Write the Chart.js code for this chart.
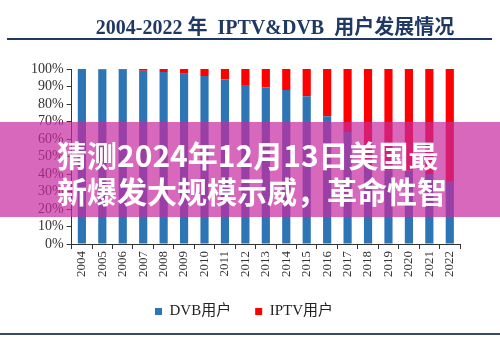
<!DOCTYPE html>
<html lang="zh">
<head>
<meta charset="UTF-8">
<title>2004-2022年 IPTV&DVB 用户发展情况</title>
<script src="https://cdn.jsdelivr.net/npm/chart.js"></script>
<style>
  html, body { margin: 0; padding: 0; background: #fff; }
  #wrap { position: relative; width: 500px; height: 341px; overflow: hidden; }
  #title {
    position: absolute; left: 0; top: 11px; width: 500px; padding-left: 50px; box-sizing: border-box;
    text-align: center; font-family: "Liberation Serif", "Noto Sans CJK SC", serif;
    font-weight: bold; font-size: 20px; color: #1f3864; white-space: pre;
  }
  #rule1 { position: absolute; left: 7px; width: 485px; top: 38px; height: 2px; background: #1f3864; }
  #rule2 { position: absolute; left: 0; width: 500px; top: 333px; height: 2px; background: #3b4a63; }
  #chartBox { position: absolute; left: 0; top: 0; width: 500px; height: 341px; }
  #banner {
    position: absolute; left: 0; top: 122px; width: 500px; height: 95px;
    background: rgba(200, 40, 160, 0.7);
  }
  #banner div {
    position: absolute; left: 57px; color: #fff; font-family: "Noto Sans CJK SC", sans-serif;
    font-weight: bold; font-size: 30px; line-height: 34px; white-space: nowrap;
  }
</style>
</head>
<body>
<div id="wrap">
  <div id="chartBox"><canvas id="chart" width="500" height="341"></canvas></div>
  <div id="title">2004-2022 年  IPTV&amp;DVB  用户发展情况</div>
  <div id="rule1"></div>
  <div id="banner">
    <div style="top:15px">猜测2024年12月13日美国最</div>
    <div style="top:51px">新爆发大规模示威，革命性智</div>
  </div>
  <div id="rule2"></div>
</div>
<script>
// 年份
var years = ["2004", "2005", "2006", "2007", "2008", "2009", "2010", "2011", "2012", "2013",
             "2014", "2015", "2016", "2017", "2018", "2019", "2020", "2021", "2022"];
// DVB用户占比 (%)
var dvb = [100, 99.8, 99.6, 99, 98.3, 97.3, 96, 94, 90.8, 89.5,
           88, 84.5, 73, 64, 45, 42, 42, 40, 36];
// IPTV用户占比 (%)
var iptv = [0, 0.2, 0.4, 1, 1.7, 2.7, 4, 6, 9.2, 10.5,
            12, 15.5, 27, 36, 55, 58, 58, 60, 64];
var yTicks = [0, 10, 20, 30, 40, 50, 60, 70, 80, 90, 100];

var serif = "'Liberation Serif', 'Noto Sans CJK SC', serif";

var ctx = document.getElementById("chart").getContext("2d");
new Chart(ctx, {
  type: "bar",
  data: {
    labels: years,
    datasets: [
      { label: "DVB用户", data: dvb, backgroundColor: "#2e75b6", barPercentage: 0.4, categoryPercentage: 1 },
      { label: "IPTV用户", data: iptv, backgroundColor: "#ff0000", barPercentage: 0.4, categoryPercentage: 1 }
    ]
  },
  options: {
    responsive: false,
    animation: false,
    layout: { padding: { top: 69, left: 28, right: 40, bottom: 12 } },
    plugins: {
      legend: {
        position: "bottom",
        labels: {
          boxWidth: 7, boxHeight: 7, padding: 24, color: "#222",
          font: { family: serif, size: 15 }
        }
      },
      tooltip: { enabled: false }
    },
    scales: {
      x: {
        stacked: true,
        grid: { display: true, drawOnChartArea: false, drawTicks: true, tickLength: 5, color: "#333", offset: true },
        border: { color: "#333", width: 1 },
        ticks: {
          color: "#333", font: { family: serif, size: 13 },
          minRotation: 90, maxRotation: 90, autoSkip: false, padding: 2
        },
        afterFit: function (scale) { scale.height = 36; }
      },
      y: {
        stacked: true,
        min: 0, max: 100,
        afterBuildTicks: function (scale) {
          scale.ticks = yTicks.map(function (v) { return { value: v }; });
        },
        grid: { display: true, drawOnChartArea: false, drawTicks: true, tickLength: 5, color: "#333" },
        border: { color: "#333", width: 1 },
        ticks: {
          color: "#333", font: { family: serif, size: 14 }, padding: 3, autoSkip: false,
          callback: function (v) { return v + "%"; }
        }
      }
    }
  }
});
</script>
</body>
</html>
